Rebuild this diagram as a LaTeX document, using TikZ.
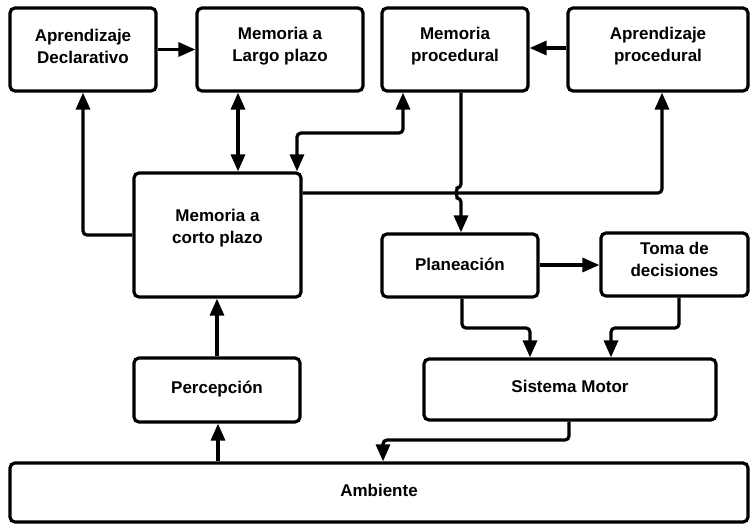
\documentclass[tikz,border=0pt]{standalone}
\usepackage{fontspec}
\setmainfont{Liberation Sans}
\usetikzlibrary{arrows.meta,calc}

\begin{document}
\begin{tikzpicture}[x=1pt,y=-1pt,
  every node/.style={font=\fontsize{17}{22}\selectfont\bfseries},
  blk/.style={draw=black, line width=3.2pt, rounded corners=5pt, inner sep=0pt},
  lbl/.style={align=center, inner sep=0pt},
  link/.style={line width=3.2pt, rounded corners=4pt,
    -{Triangle[length=17pt,width=14pt]}},
  twoway/.style={line width=3.2pt, rounded corners=4pt,
    {Triangle[length=17pt,width=14pt]}-{Triangle[length=17pt,width=14pt]}}
]
\useasboundingbox (0,0) rectangle (750,525);

% boxes
\node[blk, minimum width=146pt, minimum height=83pt] (decl) at (83,49.5) {};
\node[blk, minimum width=166pt, minimum height=83pt] (largo) at (280,49.5) {};
\node[blk, minimum width=146pt, minimum height=83pt] (mproc) at (455,49.5) {};
\node[blk, minimum width=180pt, minimum height=83pt] (aproc) at (658,49.5) {};
\node[blk, minimum width=167pt, minimum height=124pt] (corto) at (217.5,235) {};
\node[blk, minimum width=156pt, minimum height=63pt] (plan) at (460,265.5) {};
\node[blk, minimum width=147pt, minimum height=63pt] (toma) at (674.5,264.5) {};
\node[blk, minimum width=166pt, minimum height=64pt] (perc) at (217,390) {};
\node[blk, minimum width=292pt, minimum height=61pt] (motor) at (570,389.5) {};
\node[blk, minimum width=738pt, minimum height=59pt] (amb) at (379,492.5) {};

% labels
\node[lbl] (decl-t) at ([yshift=3pt]decl.center) {Aprendizaje\\Declarativo};
\node[lbl] (largo-t) at ([yshift=3pt]largo.center) {Memoria a\\Largo plazo};
\node[lbl] (mproc-t) at ([yshift=3pt]mproc.center) {Memoria\\procedural};
\node[lbl] (aproc-t) at ([yshift=3pt]aproc.center) {Aprendizaje\\procedural};
\node[lbl] (corto-t) at ([yshift=7pt]corto.center) {Memoria a\\corto plazo};
\node[lbl] (plan-t) at ([yshift=1pt]plan.center) {Planeación};
\node[lbl] (toma-t) at ([yshift=5pt]toma.center) {Toma de\\decisiones};
\node[lbl] (perc-t) at ([yshift=1pt]perc.center) {Percepción};
\node[lbl] (motor-t) at ([yshift=3pt]motor.center) {Sistema Motor};
\node[lbl] (amb-t) at ([yshift=2pt]amb.center) {Ambiente};

% routing points
\coordinate (ml) at (297,133);
\coordinate (mr) at (403,133);
\coordinate (er) at (662,193);
\coordinate (vx) at (461,0);
\coordinate (pl) at (462,328);
\coordinate (pr) at (530,328);
\coordinate (tr) at (679,328);
\coordinate (tl) at (611,328);
\coordinate (sr) at (569,440);
\coordinate (sl) at (383,440);
\coordinate (dx) at (238,0);
\coordinate (cx) at (217,0);
\coordinate (ax) at (218,0);

% connectors
\draw[link] (decl.east) -- (decl.east -| largo.west);
\draw[link] (aproc.west |- 0,48) -- (mproc.east |- 0,48);
\draw[twoway] (largo.south -| dx) -- (corto.north -| dx);
\draw[link] (corto.west) -| (decl.south);
\draw[twoway] (corto.north -| ml) -- (ml) -- (mr) -- (mproc.south -| mr);
\draw[link] (corto.east |- er) -- (er) -- (aproc.south -| er);
\draw[link] (mproc.south -| vx) -- (461,188)
  arc[start angle=270, end angle=90, radius=5] -- (plan.north -| vx);
\draw[link] (plan.east |- 0,265) -- (toma.west |- 0,265);
\draw[link] (plan.south -| pl) -- (pl) -- (pr) -- (motor.north -| pr);
\draw[link] (toma.south -| tr) -- (tr) -- (tl) -- (motor.north -| tl);
\draw[link] (motor.south -| sr) -- (sr) -- (sl) -- (amb.north -| sl);
\draw[link] (amb.north -| ax) -- (perc.south -| ax);
\draw[link] (perc.north -| cx) -- (corto.south -| cx);
\end{tikzpicture}
\end{document}
